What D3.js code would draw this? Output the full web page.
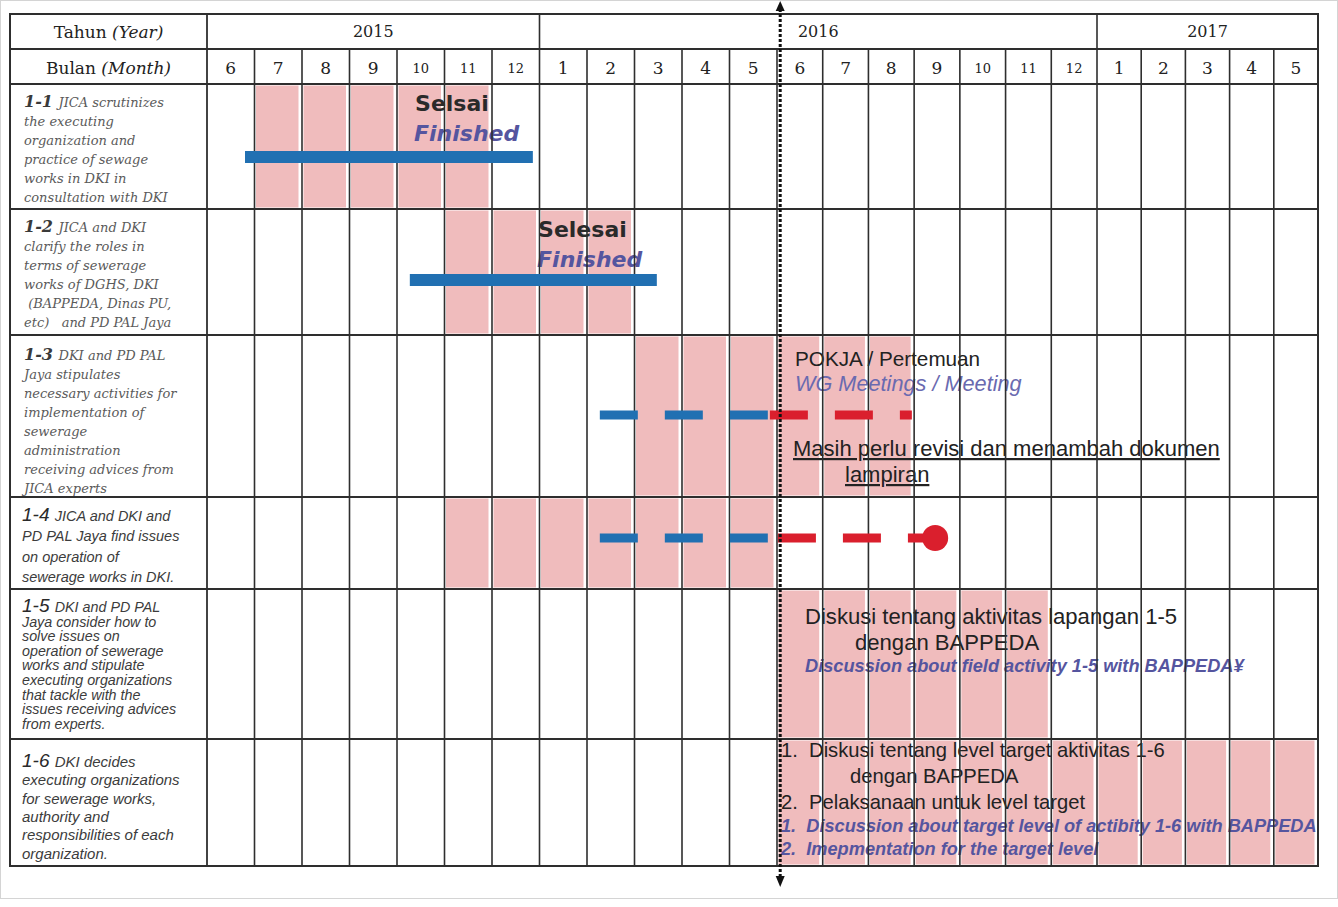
<!DOCTYPE html>
<html><head><meta charset="utf-8">
<script src="https://cdn.jsdelivr.net/npm/d3@7"></script>
<style>body{margin:0;background:#fff}svg{display:block}</style>
</head><body><svg id="c" width="1338" height="907"></svg>
<script>
// ---------------- DATA ----------------
const years = ["2015", "2016", "2017"];
const yearMonthCounts = [7, 12, 5];
const monthLabels = ["6","7","8","9","10","11","12","1","2","3","4","5","6","7","8","9","10","11","12","1","2","3","4","5"];

const taskIds = ["1-1", "1-2", "1-3", "1-4", "1-5", "1-6"];
const taskTexts = [
  ["JICA scrutinizes", "the executing", "organization and", "practice of sewage", "works in DKI in", "consultation with DKI"],
  ["JICA and DKI", "clarify the roles in", "terms of sewerage", "works of DGHS, DKI", " (BAPPEDA, Dinas PU,", "etc)   and PD PAL Jaya"],
  ["DKI and PD PAL", "Jaya stipulates", "necessary activities for", "implementation of", "sewerage", "administration", "receiving advices from", "JICA experts"],
  ["JICA and DKI and", "PD PAL Jaya find issues", "on operation of", "sewerage works in DKI."],
  ["DKI and PD PAL", "Jaya consider how to", "solve issues on", "operation of sewerage", "works and stipulate", "executing organizations", "that tackle with the", "issues receiving advices", "from experts."],
  ["DKI decides", "executing organizations", "for sewerage works,", "authority and", "responsibilities of each", "organization."]
];
// planned months (index 0 = June 2015), [start, end)
const planStart = [1, 5, 9, 5, 12, 12];
const planEnd   = [6, 9, 15, 12, 18, 24];
// completed (solid blue) bars
const doneTask  = [0, 1];
const doneStart = [0.8, 4.27];
const doneEnd   = [6.86, 9.47];
// in-progress (dashed) bars: blue = done so far, red = remaining
const progTask  = [2, 3];
const progStart = [8.27, 8.27];
const progNow   = [11.85, 12.02];
const progEnd   = [14.95, 15.2];
const milestoneTask  = [3];
const milestoneMonth = [15.46];
const statusMonth = 12.07;

// annotation texts
const doneNoteId = ["Selsai", "Selesai"];
const doneNoteEn = ["Finished", "Finished"];
const note13 = ["POKJA / Pertemuan", "WG Meetings / Meeting", "Masih perlu revisi dan menambah dokumen", "lampiran"];
const note15 = ["Diskusi tentang aktivitas lapangan 1-5", "dengan BAPPEDA", "Discussion about field activity 1-5 with BAPPEDA\u00a5"];
const note16 = ["1.  Diskusi tentang level target aktivitas 1-6", "dengan BAPPEDA", "2.  Pelaksanaan untuk level target",
                "1.  Discussion about target level of actibity 1-6 with BAPPEDA", "2.  Imepmentation for the target level"];

// ---------------- LAYOUT ----------------
const LEFT = 10, LABEL_R = 207, RIGHT = 1318, TOP = 14, YEAR_B = 49;
const rowEdges = [84, 209, 335, 497, 589, 739, 866];
const x = d3.scaleLinear().domain([0, 12, 19, 24]).range([LABEL_R, 777, 1097, RIGHT]);
const PINK = "#f0bcbd", BLUE = "#2170b2", RED = "#da1f2d", GRID = "#2e2e2e";
const EN = "#55559f";

const svg = d3.select("#c");
svg.append("rect").attr("x", 0.5).attr("y", 0.5).attr("width", 1337).attr("height", 898)
  .attr("fill", "#fff").attr("stroke", "#d4d4d4");

// pink planned cells
const cells = [];
planStart.forEach((s, t) => { for (let m = s; m < planEnd[t]; m++) cells.push({ t, m }); });
svg.append("g").selectAll("rect").data(cells).join("rect")
  .attr("x", d => x(d.m) + 1.5)
  .attr("width", d => x(d.m + 1) - x(d.m) - 5)
  .attr("y", d => rowEdges[d.t] + 1.5)
  .attr("height", d => rowEdges[d.t + 1] - rowEdges[d.t] - 3)
  .attr("fill", PINK);

// header text
const serif = "'DejaVu Serif', serif";
const hdr = svg.append("g").attr("font-family", serif).attr("fill", "#222");
const yt = hdr.append("text").attr("x", (LEFT + LABEL_R) / 2).attr("y", 38).attr("text-anchor", "middle").attr("font-size", 17);
yt.append("tspan").text("Tahun ");
yt.append("tspan").attr("font-style", "italic").text("(Year)");
const mt = hdr.append("text").attr("x", (LEFT + LABEL_R) / 2).attr("y", 74).attr("text-anchor", "middle").attr("font-size", 17);
mt.append("tspan").text("Bulan ");
mt.append("tspan").attr("font-style", "italic").text("(Month)");

const yearStarts = yearMonthCounts.map((c, i) => d3.sum(yearMonthCounts.slice(0, i)));
hdr.selectAll("text.yr").data(years).join("text").attr("class", "yr")
  .attr("x", (d, i) => (x(yearStarts[i]) + x(yearStarts[i] + yearMonthCounts[i])) / 2)
  .attr("y", 37).attr("text-anchor", "middle").attr("font-size", 16).text(d => d);
hdr.selectAll("text.mo").data(monthLabels).join("text").attr("class", "mo")
  .attr("x", (d, i) => (x(i) + x(i + 1)) / 2)
  .attr("y", d => d.length > 1 ? 73 : 74)
  .attr("text-anchor", "middle").attr("font-size", d => d.length > 1 ? 13 : 17).text(d => d);

// task labels
const sans = "'Liberation Sans', Arial, sans-serif";
const labelStyle = [
  { f: serif, first: 107, step: 19, idSize: 16, size: 13, idW: "bold", col: "#5a5a5a", idCol: "#3a3a3a", x: 24 },
  { f: serif, first: 232, step: 19, idSize: 16, size: 13, idW: "bold", col: "#5a5a5a", idCol: "#3a3a3a", x: 24 },
  { f: serif, first: 360, step: 19, idSize: 16, size: 13, idW: "bold", col: "#5a5a5a", idCol: "#3a3a3a", x: 24 },
  { f: sans, first: 521, step: 20.3, idSize: 19, size: 14.5, idW: "normal", col: "#3c3c3c", idCol: "#2a2a2a", x: 22 },
  { f: sans, first: 612, step: 14.6, idSize: 19, size: 14.3, idW: "normal", col: "#3c3c3c", idCol: "#2a2a2a", x: 22 },
  { f: sans, first: 767, step: 18.3, idSize: 19, size: 15, idW: "normal", col: "#3c3c3c", idCol: "#2a2a2a", x: 22 }
];
taskIds.forEach((id, t) => {
  const s = labelStyle[t];
  const g = svg.append("g").attr("font-family", s.f).attr("font-style", "italic");
  taskTexts[t].forEach((line, i) => {
    const tx = g.append("text").attr("x", s.x).attr("y", s.first + i * s.step)
      .attr("font-size", s.size).attr("fill", s.col).style("white-space", "pre");
    if (i === 0) {
      tx.append("tspan").attr("font-size", s.idSize).attr("font-weight", s.idW).attr("fill", s.idCol).text(id + " ");
    }
    tx.append("tspan").text(line);
  });
});

// annotations
const ann = svg.append("g");
const tahoma = "'DejaVu Sans', Verdana, sans-serif";
const doneNoteX = [4.38, 6.97];
const doneNoteY = [111, 237];
doneNoteId.forEach((t, i) => {
  ann.append("text").attr("x", x(doneNoteX[i])).attr("y", doneNoteY[i]).attr("font-family", tahoma)
    .attr("font-weight", "bold").attr("font-size", 22).attr("fill", "#2a2a2a").text(t);
  ann.append("text").attr("x", x(doneNoteX[i]) - 1).attr("y", doneNoteY[i] + 30).attr("font-family", tahoma)
    .attr("font-weight", "bold").attr("font-style", "italic").attr("font-size", 22).attr("fill", EN).text(doneNoteEn[i]);
});
ann.append("text").attr("x", 795).attr("y", 366).attr("font-family", sans).attr("font-size", 20.7).attr("fill", "#222").text(note13[0]);
ann.append("text").attr("x", 795).attr("y", 391).attr("font-family", sans).attr("font-style", "italic").attr("font-size", 21.7).attr("fill", "#6a6ab0").text(note13[1]);
ann.append("text").attr("x", 793).attr("y", 456).attr("font-family", sans).attr("font-size", 22).attr("fill", "#222")
  .style("text-decoration", "underline").text(note13[2]);
ann.append("text").attr("x", 845).attr("y", 482).attr("font-family", sans).attr("font-size", 22).attr("fill", "#222")
  .style("text-decoration", "underline").text(note13[3]);

ann.append("text").attr("x", 805).attr("y", 624).attr("font-family", sans).attr("font-size", 22.1).attr("fill", "#222").text(note15[0]);
ann.append("text").attr("x", 855).attr("y", 650).attr("font-family", sans).attr("font-size", 22.1).attr("fill", "#222").text(note15[1]);
ann.append("text").attr("x", 805).attr("y", 672).attr("font-family", sans).attr("font-weight", "bold").attr("font-style", "italic")
  .attr("font-size", 18.2).attr("fill", EN).text(note15[2]);

const n16y = [757, 783, 809, 832, 855];
const n16x = [781, 850, 781, 781, 781];
note16.forEach((t, i) => {
  const en = i >= 3;
  ann.append("text").attr("x", n16x[i]).attr("y", n16y[i]).attr("font-family", sans)
    .attr("font-size", en ? 18.2 : 20.2).attr("font-weight", en ? "bold" : "normal").attr("font-style", en ? "italic" : "normal")
    .attr("fill", en ? EN : "#222").style("white-space", "pre").text(t);
});

// grid
const grid = svg.append("g").attr("stroke", GRID).attr("fill", "none");
d3.range(1, 24).forEach(m => {
  const isYear = yearStarts.includes(m);
  grid.append("line").attr("x1", x(m)).attr("x2", x(m)).attr("y1", isYear ? TOP : YEAR_B).attr("y2", rowEdges[6]).attr("stroke-width", 1.6);
});
grid.append("line").attr("x1", LABEL_R).attr("x2", LABEL_R).attr("y1", TOP).attr("y2", rowEdges[6]).attr("stroke-width", 1.8);
[YEAR_B, ...rowEdges.slice(0, 6)].forEach(y => {
  grid.append("line").attr("x1", LEFT).attr("x2", RIGHT).attr("y1", y).attr("y2", y).attr("stroke-width", 1.8);
});
grid.append("rect").attr("x", LEFT).attr("y", TOP).attr("width", RIGHT - LEFT).attr("height", rowEdges[6] - TOP).attr("stroke-width", 2);

// completed bars
const doneY = [157, 280];
svg.append("g").selectAll("rect").data(doneTask).join("rect")
  .attr("x", (d, i) => x(doneStart[i])).attr("width", (d, i) => x(doneEnd[i]) - x(doneStart[i]))
  .attr("y", (d, i) => doneY[i] - 6).attr("height", 12).attr("fill", BLUE);

// progress dashed bars
const progY = [415, 538];
const pg = svg.append("g").attr("stroke-width", 9);
progTask.forEach((t, i) => {
  pg.append("line").attr("x1", x(progStart[i])).attr("x2", x(progNow[i])).attr("y1", progY[i]).attr("y2", progY[i])
    .attr("stroke", BLUE).attr("stroke-dasharray", "38,27");
  pg.append("line").attr("x1", x(progNow[i])).attr("x2", x(progEnd[i])).attr("y1", progY[i]).attr("y2", progY[i])
    .attr("stroke", RED).attr("stroke-dasharray", "38,27");
});
milestoneTask.forEach((t, i) => {
  svg.append("circle").attr("cx", x(milestoneMonth[i])).attr("cy", progY[progTask.indexOf(t)]).attr("r", 13).attr("fill", RED);
});

// status date dotted line with arrows
const sx = x(statusMonth);
svg.append("line").attr("x1", sx).attr("x2", sx).attr("y1", 9).attr("y2", 877)
  .attr("stroke", "#111").attr("stroke-width", 3).attr("stroke-dasharray", "3,2");
svg.append("path").attr("d", `M${sx},1 L${sx - 4.5},11 L${sx + 4.5},11 Z`).attr("fill", "#111");
svg.append("path").attr("d", `M${sx},887 L${sx - 4.5},876 L${sx + 4.5},876 Z`).attr("fill", "#111");
</script></body></html>
